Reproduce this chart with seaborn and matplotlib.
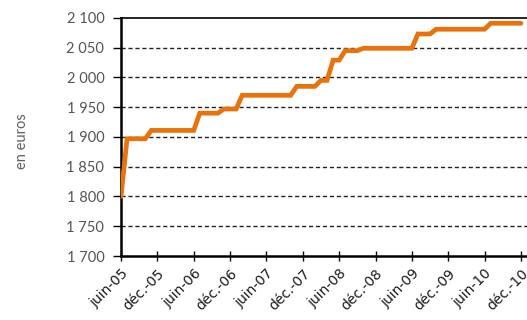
import matplotlib
matplotlib.use("Agg")
import matplotlib.pyplot as plt
import seaborn as sns
import pandas as pd
import numpy as np

# Monthly values, juin-05 (index 0) to déc.-10 (index 66)
values = ([1800] + [1897] * 4 + [1911] * 8 + [1940] * 4 + [1947] * 3 +
          [1970] * 9 + [1985] * 4 + [1995] * 2 + [2029] * 2 + [2045] * 3 +
          [2049] * 9 + [2073] * 3 + [2081] * 9 + [2091] * 6)
months = list(range(len(values)))
tick_labels = ["juin-05", "déc.-05", "juin-06", "déc.-06", "juin-07", "déc.-07",
               "juin-08", "déc.-08", "juin-09", "déc.-09", "juin-10", "déc.-10"]
y_ticks = [1700, 1750, 1800, 1850, 1900, 1950, 2000, 2050, 2100]
y_labels = ["1 700", "1 750", "1 800", "1 850", "1 900", "1 950", "2 000", "2 050", "2 100"]

df = pd.DataFrame({"mois": months, "salaire": values})

sns.set_theme(style="white")
plt.rcParams["font.family"] = ["Lato", "DejaVu Sans"]

fig = plt.figure(figsize=(5.27, 3.2), dpi=100)
ax = fig.add_axes([0.2296, 0.2, 0.7704, 0.744])

sns.lineplot(data=df, x="mois", y="salaire", ax=ax, color="#E8720C",
             linewidth=3.4, solid_joinstyle="miter", zorder=5)

ax.set_xlim(0, 67)
ax.set_ylim(1700, 2100)
ax.set_yticks(y_ticks)
ax.set_yticklabels(y_labels, fontsize=10.5, color="#555555")
ax.set_xticks(list(range(0, 67, 6)))
ax.set_xticklabels(tick_labels, rotation=45, ha="right", va="top",
                   rotation_mode="anchor", fontsize=10, color="#1a1a1a",
                   family="DejaVu Sans")

ax.grid(False)
for yv in y_ticks[1:-1]:
    ax.axhline(yv, color="#222222", linewidth=1.0, linestyle=(0, (3, 2)), zorder=1)

for s in ["left", "bottom", "top"]:
    ax.spines[s].set_visible(True)
    ax.spines[s].set_color("black")
ax.spines["left"].set_linewidth(1.8)
ax.spines["bottom"].set_linewidth(1.8)
ax.spines["top"].set_linewidth(1.2)
ax.spines["right"].set_visible(False)

ax.tick_params(axis="y", which="major", direction="out", length=6, width=1,
               color="black", left=True, pad=6)
ax.tick_params(axis="x", which="major", direction="inout", length=7, width=1,
               color="black", bottom=True, pad=4)

ax.set_xlabel("")
ax.set_ylabel("")
fig.text(0.042, 0.56, "en euros", rotation=90, ha="center", va="center",
         fontsize=10.5, color="#606060")

fig.savefig("out.png", dpi=100)
